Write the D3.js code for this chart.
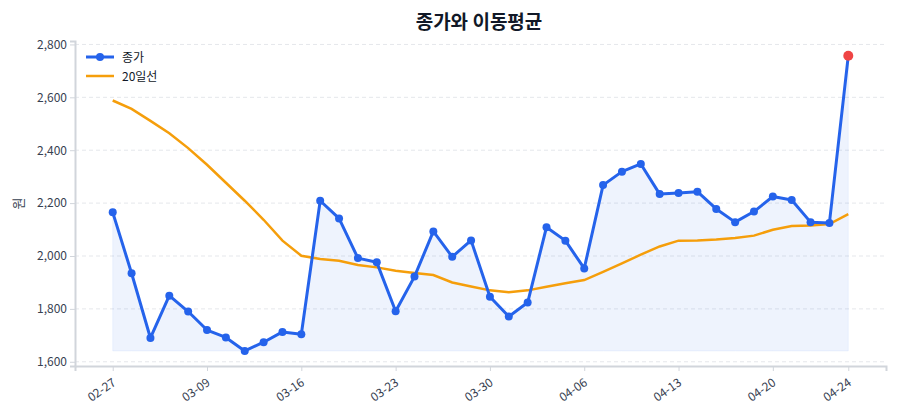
<!DOCTYPE html>
<html>
<head>
<meta charset="utf-8">
<script src="https://cdn.jsdelivr.net/npm/d3@7"></script>
<style>
  body { margin: 0; background: #fff; font-family: "Noto Sans CJK KR", "Noto Sans", sans-serif; }
  .grid line { stroke: #e5e7eb; stroke-dasharray: 4 3; }
  .axis path, .axis line { stroke: #d1d5db; }
  .axis text { fill: #374151; font-size: 12px; font-family: "Noto Sans CJK KR", "Noto Sans", sans-serif; }
</style>
</head>
<body>
<div id="chart"></div>
<script>
const dates = ['02-27','03-03','03-04','03-05','03-06','03-09','03-10','03-11','03-12','03-13',
  '03-16','03-17','03-18','03-19','03-20','03-23','03-24','03-25','03-26','03-27',
  '03-30','03-31','04-01','04-02','04-03','04-06','04-07','04-08','04-09','04-10',
  '04-13','04-14','04-15','04-16','04-17','04-20','04-21','04-22','04-23','04-24'];
const closes = [2165, 1935, 1690, 1850, 1790, 1720, 1692, 1641, 1674, 1713,
  1704, 2209, 2142, 1992, 1976, 1791, 1922, 2093, 1997, 2059,
  1846, 1771, 1824, 2109, 2058, 1953, 2268, 2319, 2348, 2234,
  2238, 2243, 2178, 2128, 2168, 2225, 2212, 2128, 2125, 2757];
const ma20 = [2588, 2556, 2511, 2464, 2408, 2345, 2277, 2209, 2137, 2058,
  2001, 1989, 1982, 1966, 1957, 1944, 1936, 1928, 1900, 1885,
  1870, 1863, 1870, 1884, 1897, 1909, 1940, 1972, 2005, 2036,
  2058, 2059, 2062, 2068, 2077, 2099, 2113, 2115, 2121, 2158];
const yTicks = [1600, 1800, 2000, 2200, 2400, 2600, 2800];
const xTickIdx = [0, 5, 10, 15, 20, 25, 30, 35, 39];

const width = 900, height = 420;
const margin = { top: 41, right: 14, bottom: 54, left: 75 };

const svg = d3.select('#chart').append('svg')
  .attr('width', width)
  .attr('height', height);

const x = d3.scaleLinear()
  .domain([-2, dates.length + 1])
  .range([margin.left, width - margin.right]);

const y = d3.scaleLinear()
  .domain([1584, 2813])
  .range([height - margin.bottom, margin.top]);

// grid
svg.append('g')
  .attr('class', 'grid')
  .selectAll('line')
  .data(yTicks)
  .join('line')
  .attr('x1', margin.left)
  .attr('x2', width - margin.right)
  .attr('y1', d => y(d))
  .attr('y2', d => y(d));

// area under close, from the lowest close
const base = d3.min(closes);
const area = d3.area()
  .x((d, i) => x(i))
  .y0(y(base))
  .y1(d => y(d));

svg.append('path')
  .datum(closes)
  .attr('d', area)
  .attr('fill', '#2563eb')
  .attr('fill-opacity', 0.08)
  .attr('stroke', '#2563eb')
  .attr('stroke-opacity', 0.06);

// axes
const yAxis = svg.append('g')
  .attr('class', 'axis')
  .attr('transform', `translate(${margin.left},0)`)
  .call(d3.axisLeft(y).tickValues(yTicks).tickFormat(d3.format(',')).tickSizeOuter(0).tickSize(5));
yAxis.selectAll('.tick line').attr('stroke', '#4b5563');
yAxis.select('.domain').attr('stroke-width', 2);

const xAxis = svg.append('g')
  .attr('class', 'axis')
  .attr('transform', `translate(0,${height - margin.bottom})`)
  .call(d3.axisBottom(x).tickValues(xTickIdx).tickFormat(i => dates[i]).tickSizeOuter(0).tickSize(5));
xAxis.selectAll('.tick line').attr('stroke', '#4b5563');
xAxis.select('.domain').attr('stroke-width', 2);
xAxis.selectAll('text')
  .attr('text-anchor', 'end')
  .attr('x', 0)
  .attr('y', 0)
  .attr('dy', '0.35em')
  .attr('transform', 'translate(1,15) rotate(-35)');

svg.append('text')
  .attr('transform', `translate(18,${(margin.top + height - margin.bottom) / 2}) rotate(-90)`)
  .attr('text-anchor', 'middle')
  .attr('dy', '0.35em')
  .attr('fill', '#374151')
  .style('font-size', '13px')
  .text('원');

// lines
const line = d3.line().x((d, i) => x(i)).y(d => y(d));

svg.append('path')
  .datum(ma20)
  .attr('d', line)
  .attr('fill', 'none')
  .attr('stroke', '#f59e0b')
  .attr('stroke-width', 2.5);

svg.append('path')
  .datum(closes)
  .attr('d', line)
  .attr('fill', 'none')
  .attr('stroke', '#2563eb')
  .attr('stroke-width', 3)
  .attr('stroke-linejoin', 'round');

svg.append('g')
  .selectAll('circle')
  .data(closes)
  .join('circle')
  .attr('cx', (d, i) => x(i))
  .attr('cy', d => y(d))
  .attr('r', (d, i) => i === closes.length - 1 ? 5 : 4)
  .attr('fill', (d, i) => i === closes.length - 1 ? '#ef4444' : '#2563eb');

// legend
const legend = svg.append('g').attr('transform', 'translate(86,57)');
legend.append('line').attr('x1', 0).attr('x2', 28).attr('y1', 0).attr('y2', 0)
  .attr('stroke', '#2563eb').attr('stroke-width', 3);
legend.append('circle').attr('cx', 14).attr('cy', 0).attr('r', 4).attr('fill', '#2563eb');
legend.append('text').attr('x', 36).attr('y', 4.5).attr('fill', '#111827')
  .style('font-size', '12px').text('종가');
legend.append('line').attr('x1', 0).attr('x2', 28).attr('y1', 19).attr('y2', 19)
  .attr('stroke', '#f59e0b').attr('stroke-width', 2.5);
legend.append('text').attr('x', 36).attr('y', 23.5).attr('fill', '#111827')
  .style('font-size', '12px').text('20일선');

// title
svg.append('text')
  .attr('x', 479)
  .attr('y', 29)
  .attr('text-anchor', 'middle')
  .attr('fill', '#111827')
  .style('font-size', '19px')
  .style('font-weight', 'bold')
  .text('종가와 이동평균');
</script>
</body>
</html>
